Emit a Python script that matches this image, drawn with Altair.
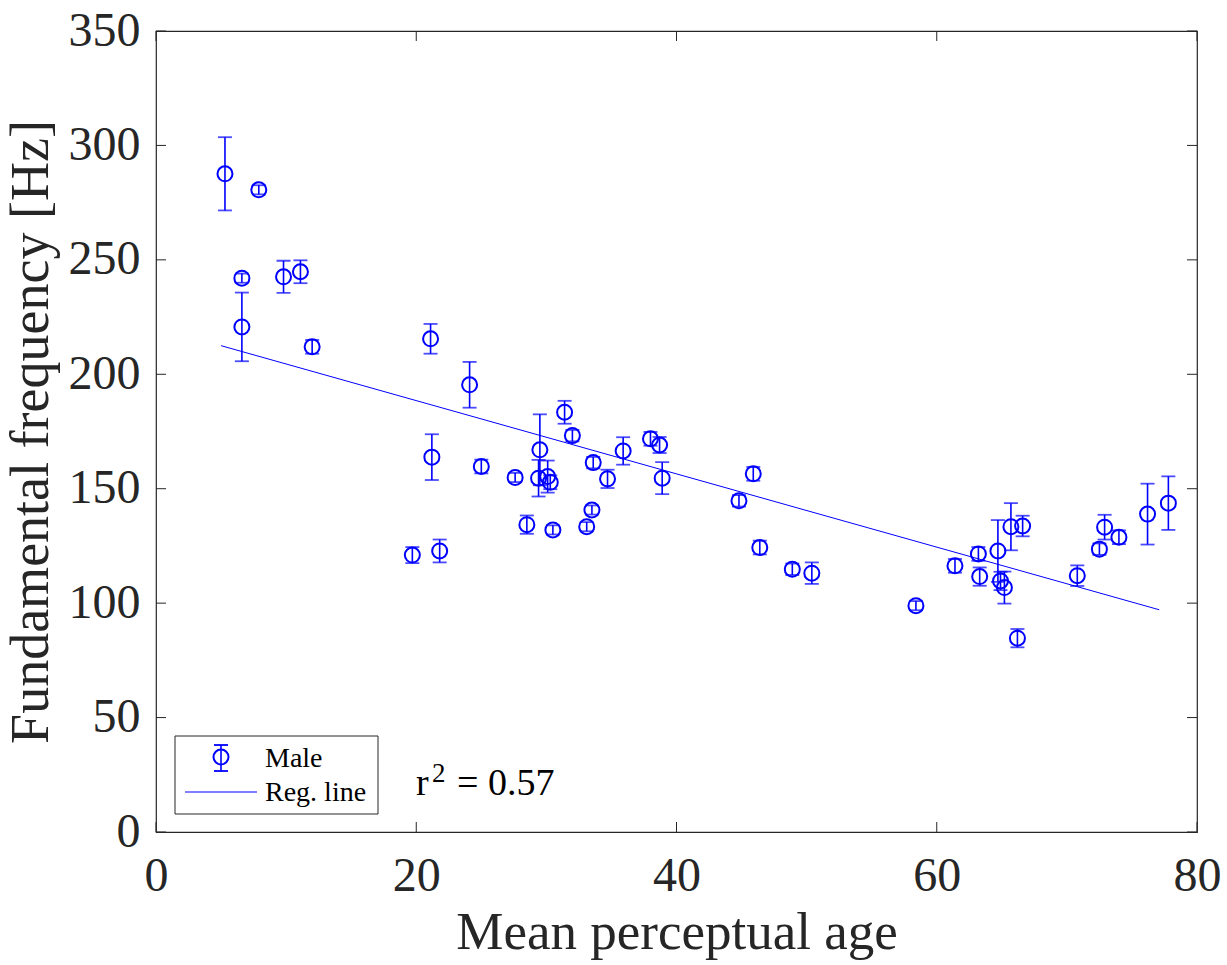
import altair as alt
import pandas as pd

# ---- data ----
age = [5.3, 7.9, 6.6, 6.6, 9.8, 11.1, 12.0,
       21.1, 24.1, 21.2, 25.0, 27.6, 29.5, 29.4, 30.1, 30.3, 31.4, 32.0, 33.6, 34.7,
       35.9, 38.0, 38.7, 38.9, 33.5, 33.1, 30.5, 28.5, 21.8, 19.7,
       45.9, 44.8, 46.4, 48.9, 50.4, 58.4, 61.4, 63.2, 63.3, 64.7, 64.9, 65.2,
       65.7, 66.6, 66.2, 70.8, 72.5, 72.9, 74.0, 76.2, 77.8]
f0 = [287.6, 280.6, 242.0, 220.7, 242.6, 244.8, 212.0,
      215.5, 195.4, 163.8, 159.7, 154.9, 167.0, 154.6, 155.3, 152.8, 183.4, 173.2, 161.4, 154.3,
      166.5, 171.8, 169.1, 154.6, 140.7, 133.4, 132.0, 134.3, 122.8, 121.0,
      156.5, 144.7, 124.3, 114.8, 113.1, 98.9, 116.3, 121.5, 111.6, 122.8, 109.7, 106.8,
      133.4, 133.7, 84.7, 112.0, 123.6, 133.2, 128.8, 138.9, 143.7]
err = [16.0, 2.0, 2.0, 15.0, 7.0, 5.0, 3.0,
       6.5, 10.0, 10.0, 3.0, 2.0, 15.5, 8.0, 7.0, 3.0, 5.0, 2.5, 2.5, 4.0,
       6.0, 3.0, 3.5, 7.0, 2.0, 2.0, 2.0, 4.0, 5.0, 3.5,
       3.0, 2.5, 3.0, 2.5, 4.7, 2.0, 3.0, 3.0, 4.0, 13.5, 4.0, 7.0,
       10.3, 4.5, 4.0, 4.5, 2.5, 5.4, 3.0, 13.3, 11.7]
reg_age = [5.0, 77.1]
reg_f0 = [212.5, 97.1]
x_ticks = [0, 20, 40, 60, 80]
y_ticks = [0, 50, 100, 150, 200, 250, 300, 350]
legend_labels = ["Male", "Reg. line"]
r2_text = "= 0.57"

# ---- style ----
W, H = 1041, 801
BLUE = "#0000ff"
AX = "#262626"
FONT = "Liberation Serif"
TL = 10  # inward tick length

df = pd.DataFrame({"age": age, "f0": f0, "err": err})
df["lo"] = df["f0"] - df["err"]
df["hi"] = df["f0"] + df["err"]
reg = pd.DataFrame({"age": reg_age, "f0": reg_f0})
xt = pd.DataFrame({"age": x_ticks})
yt = pd.DataFrame({"f0": y_ticks})

xs = alt.Scale(domain=[0, 80], nice=False, zero=False)
ys = alt.Scale(domain=[0, 350], nice=False, zero=False)

xaxis = alt.Axis(values=x_ticks, title="Mean perceptual age", grid=False, ticks=False, tickSize=0,
                 domain=False, labelFont=FONT, labelFontSize=48, labelColor=AX, labelPadding=20,
                 titleFont=FONT, titleFontSize=53, titleFontWeight="normal", titleColor=AX,
                 titlePadding=6, labelFlush=False)
yaxis = alt.Axis(values=y_ticks, title="Fundamental frequency [Hz]", grid=False, ticks=False,
                 tickSize=0, domain=False, labelFont=FONT, labelFontSize=48, labelColor=AX,
                 labelPadding=16, titleFont=FONT, titleFontSize=54, titleFontWeight="normal",
                 titleColor=AX, titlePadding=10, labelFlush=False)


def X(field):
    return alt.X(field, type="quantitative", scale=xs, axis=xaxis)


def Y(field):
    return alt.Y(field, type="quantitative", scale=ys, axis=yaxis)


bars = alt.Chart(df).mark_rule(color=BLUE, strokeWidth=1.6).encode(
    x=X("age"), y=Y("lo"), y2="hi")
cap_lo = alt.Chart(df).mark_tick(color=BLUE, orient="horizontal", size=14, thickness=1.8).encode(
    x=X("age"), y=Y("lo"))
cap_hi = alt.Chart(df).mark_tick(color=BLUE, orient="horizontal", size=14, thickness=1.8).encode(
    x=X("age"), y=Y("hi"))
pts = alt.Chart(df).mark_point(shape="circle", filled=False, color=BLUE, size=225, strokeWidth=2,
                               opacity=1).encode(x=X("age"), y=Y("f0"))
line = alt.Chart(reg).mark_line(color=BLUE, strokeWidth=1).encode(x=X("age"), y=Y("f0"))

# inward ticks on all four sides
tick_b = alt.Chart(xt).mark_rule(color=AX, strokeWidth=1).encode(
    x=X("age"), y=alt.value(H), y2=alt.value(H - TL))
tick_t = alt.Chart(xt).mark_rule(color=AX, strokeWidth=1).encode(
    x=X("age"), y=alt.value(0), y2=alt.value(TL))
tick_l = alt.Chart(yt).mark_rule(color=AX, strokeWidth=1).encode(
    y=Y("f0"), x=alt.value(0), x2=alt.value(TL))
tick_r = alt.Chart(yt).mark_rule(color=AX, strokeWidth=1).encode(
    y=Y("f0"), x=alt.value(W), x2=alt.value(W - TL))

# ---- legend (decoration) ----
one = pd.DataFrame({"k": [0]})
leg_box = alt.Chart(one).mark_rect(fill="white", stroke=AX, strokeWidth=1).encode(
    x=alt.value(19), x2=alt.value(222), y=alt.value(705), y2=alt.value(783))
leg_bar = alt.Chart(one).mark_rule(color=BLUE, strokeWidth=1.6).encode(
    x=alt.value(65), y=alt.value(714), y2=alt.value(740))
leg_cap1 = alt.Chart(one).mark_rule(color=BLUE, strokeWidth=1.8).encode(
    x=alt.value(58), x2=alt.value(72), y=alt.value(714))
leg_cap2 = alt.Chart(one).mark_rule(color=BLUE, strokeWidth=1.8).encode(
    x=alt.value(58), x2=alt.value(72), y=alt.value(740))
leg_pt = alt.Chart(one).mark_point(shape="circle", filled=False, color=BLUE, size=225,
                                   strokeWidth=2, opacity=1).encode(
    x=alt.value(65), y=alt.value(726))
leg_line = alt.Chart(one).mark_rule(color=BLUE, strokeWidth=1).encode(
    x=alt.value(29), x2=alt.value(101), y=alt.value(761))
leg_t1 = alt.Chart(one).mark_text(text=legend_labels[0], font=FONT, fontSize=28, color="black",
                                  align="left", baseline="alphabetic").encode(
    x=alt.value(109), y=alt.value(736))
leg_t2 = alt.Chart(one).mark_text(text=legend_labels[1], font=FONT, fontSize=28, color="black",
                                  align="left", baseline="alphabetic").encode(
    x=alt.value(109), y=alt.value(770))

r_t = alt.Chart(one).mark_text(text="r", font=FONT, fontSize=38, color="black", align="left",
                               baseline="alphabetic").encode(x=alt.value(260), y=alt.value(764))
r_sup = alt.Chart(one).mark_text(text="2", font=FONT, fontSize=27, color="black", align="left",
                                 baseline="alphabetic").encode(x=alt.value(276), y=alt.value(751))
r_val = alt.Chart(one).mark_text(text=r2_text, font=FONT, fontSize=38, color="black", align="left",
                                 baseline="alphabetic").encode(x=alt.value(301), y=alt.value(764))

chart = alt.layer(
    bars, cap_lo, cap_hi, line, pts,
    tick_b, tick_t, tick_l, tick_r,
    leg_box, leg_bar, leg_cap1, leg_cap2, leg_pt, leg_line, leg_t1, leg_t2,
    r_t, r_sup, r_val,
).properties(
    width=W, height=H,
    autosize=alt.AutoSizeParams(type="none"),
    padding={"left": 156, "top": 31, "right": 30, "bottom": 133},
    background="white",
).configure_view(stroke=AX, strokeWidth=1.2)

chart.save("out.html", embed_options={"renderer": "svg", "actions": False})
